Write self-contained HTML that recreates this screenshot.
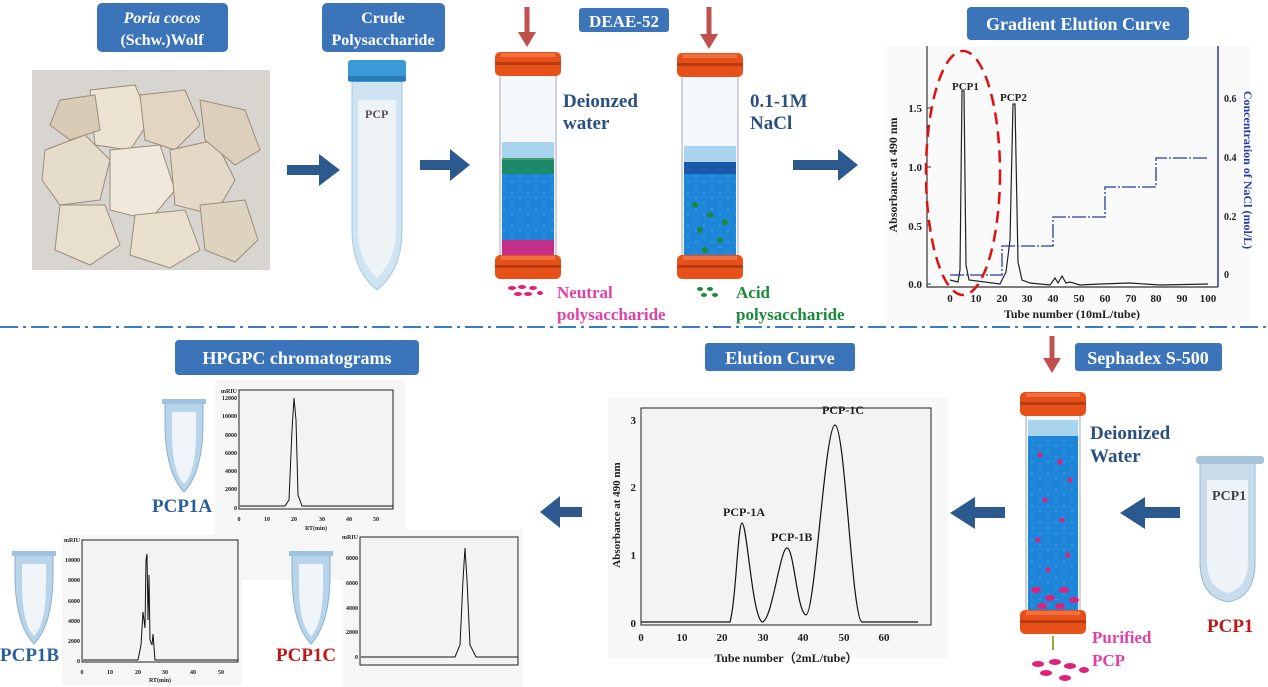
<!DOCTYPE html>
<html><head><meta charset="utf-8"><style>
body{margin:0;background:#fff}
svg{display:block}
text{font-family:"Liberation Serif",serif;font-weight:bold}
</style></head><body>
<svg width="1268" height="687" viewBox="0 0 1268 687" xmlns="http://www.w3.org/2000/svg">
<defs>
<pattern id="beads" width="16" height="11" patternUnits="userSpaceOnUse">
<rect width="16" height="11" fill="#8cc4ec"/>
<ellipse cx="8" cy="5.5" rx="7.5" ry="5" fill="#1e86d8"/>
<ellipse cx="0" cy="0" rx="7.5" ry="5" fill="#1e86d8"/>
<ellipse cx="16" cy="0" rx="7.5" ry="5" fill="#1e86d8"/>
<ellipse cx="0" cy="11" rx="7.5" ry="5" fill="#1e86d8"/>
<ellipse cx="16" cy="11" rx="7.5" ry="5" fill="#1e86d8"/>
</pattern>
<g id="cap"><rect x="0" y="0" width="66" height="24" rx="5" fill="#e8501a"/><rect x="0" y="10" width="66" height="3" fill="#b83a10"/><rect x="6" y="1" width="54" height="4" fill="#f07040"/></g>
</defs>

<rect x="97" y="3" width="131" height="49" rx="5" fill="#3b74b8"/>
<text x="162" y="23" font-size="16" fill="#fff" text-anchor="middle" font-style="italic">Poria cocos</text>
<text x="162" y="45" font-size="16" fill="#fff" text-anchor="middle">(Schw.)Wolf</text>
<rect x="322" y="3" width="123" height="49" rx="5" fill="#3b74b8"/>
<text x="383" y="23" font-size="16" fill="#fff" text-anchor="middle">Crude</text>
<text x="383" y="45" font-size="16" fill="#fff" text-anchor="middle">Polysaccharide</text>
<rect x="579" y="8" width="90" height="24" rx="3" fill="#3b74b8"/>
<text x="624" y="27" font-size="17" fill="#fff" text-anchor="middle">DEAE-52</text>
<rect x="967" y="7" width="222" height="33" rx="4" fill="#3b74b8"/>
<text x="1078" y="30" font-size="18" fill="#fff" text-anchor="middle">Gradient Elution Curve</text>

<rect x="32" y="70" width="238" height="200" fill="#d8d4cf"/>
<g stroke="#9a8c78" stroke-width="1">
<polygon points="45,150 85,135 110,160 100,200 60,205 42,180" fill="#e6dccb"/>
<polygon points="90,90 135,85 150,120 130,150 95,145" fill="#ece3d3"/>
<polygon points="140,95 185,90 200,125 175,150 145,140" fill="#e2d6c2"/>
<polygon points="110,150 160,145 175,190 150,220 110,210" fill="#f0e8da"/>
<polygon points="170,150 215,140 235,180 215,215 175,205" fill="#e4d9c6"/>
<polygon points="200,100 245,110 260,150 235,165 205,140" fill="#dcd0bc"/>
<polygon points="60,205 105,205 120,245 90,265 55,250" fill="#e8dfcf"/>
<polygon points="135,215 185,210 200,250 170,268 130,255" fill="#eae0ce"/>
<polygon points="200,205 245,200 258,240 235,262 205,250" fill="#ded3bf"/>
<polygon points="60,100 95,95 100,130 70,140 50,125" fill="#d9ccb6"/>
</g>

<g fill="#2d5a8e">
<path d="M287,165 h32 v-11 l21,16 l-21,16 v-11 h-32z"/>
<path d="M420,160 h30 v-11 l20,16 l-20,16 v-11 h-30z"/>
<path d="M793,160 h45 v-11 l20,16 l-20,16 v-11 h-45z"/>
<path d="M582,507 h-22 v-11 l-20,16 l20,16 v-11 h22z"/>
<path d="M975,507 h30 v11 h-30 v11 l-25,-16 l25,-16z"/>
<path d="M1145,507 h35 v11 h-35 v11 l-25,-16 l25,-16z"/>
</g>

<path d="M352,80 h50 v150 q0,40 -25,60 q-25,-20 -25,-60z" fill="#cfe4f2" stroke="#a8c8de"/>
<path d="M358,100 h38 v130 q0,30 -19,48 q-19,-18 -19,-48z" fill="#eef3f6"/>
<rect x="348" y="60" width="58" height="22" rx="3" fill="#3a9ad8"/>
<rect x="348" y="76" width="58" height="5" fill="#2a7ab8"/>
<text x="365" y="118" font-size="12" fill="#555" font-weight="normal">PCP</text>

<path d="M527,7 v28" stroke="#c0504d" stroke-width="5"/><path d="M518,32 l9,15 l9,-15z" fill="#c0504d"/>
<rect x="500" y="74" width="56" height="184" fill="#f4f8fa" stroke="#aab" stroke-width="1"/>
<rect x="502" y="142" width="52" height="20" fill="#a8d4ee"/>
<rect x="502" y="160" width="52" height="95" fill="url(#beads)"/>
<rect x="502" y="158" width="52" height="16" fill="#1a8a3a" opacity="0.7"/>
<rect x="502" y="240" width="52" height="15" fill="#e0207a" opacity="0.85"/>
<use href="#cap" x="495" y="52"/>
<use href="#cap" x="495" y="255"/>
<g fill="#e0207a"><ellipse cx="512" cy="288" rx="4" ry="2"/><ellipse cx="522" cy="287" rx="4" ry="2"/><ellipse cx="533" cy="288" rx="4" ry="2"/><ellipse cx="518" cy="294" rx="4" ry="2"/><ellipse cx="528" cy="294" rx="4" ry="2"/><ellipse cx="540" cy="293" rx="3" ry="2"/></g>
<text x="563" y="107" font-size="19" fill="#2a5080">Deionzed</text>
<text x="563" y="129" font-size="19" fill="#2a5080">water</text>
<text x="557" y="298" font-size="17" fill="#e040a8">Neutral</text>
<text x="557" y="320" font-size="17" fill="#e040a8">polysaccharide</text>

<path d="M709,7 v30" stroke="#c0504d" stroke-width="5"/><path d="M700,34 l9,15 l9,-15z" fill="#c0504d"/>
<rect x="682" y="75" width="56" height="183" fill="#f4f8fa" stroke="#aab"/>
<rect x="684" y="146" width="52" height="18" fill="#a8d4ee"/>
<rect x="684" y="162" width="52" height="93" fill="url(#beads)"/>
<rect x="684" y="162" width="52" height="12" fill="#1a3a8a" opacity="0.6"/>
<g fill="#1a8a3a"><circle cx="695" cy="205" r="3"/><circle cx="710" cy="215" r="3"/><circle cx="700" cy="230" r="3"/><circle cx="720" cy="240" r="3"/><circle cx="705" cy="250" r="3"/><circle cx="725" cy="222" r="3"/></g>
<use href="#cap" x="677" y="53"/>
<use href="#cap" x="677" y="255"/>
<g fill="#1a8a3a"><ellipse cx="700" cy="289" rx="3" ry="2"/><ellipse cx="710" cy="289" rx="3" ry="2"/><ellipse cx="704" cy="295" rx="3" ry="2"/><ellipse cx="715" cy="295" rx="3" ry="2"/></g>
<text x="750" y="107" font-size="19" fill="#2a5080">0.1-1M</text>
<text x="750" y="129" font-size="19" fill="#2a5080">NaCl</text>
<text x="736" y="298" font-size="17" fill="#1a8a3a">Acid</text>
<text x="736" y="320" font-size="17" fill="#1a8a3a">polysaccharide</text>

<rect x="885" y="46" width="365" height="276" fill="#fafafa"/>
<path d="M927,46 V287 H1218" fill="none" stroke="#333" stroke-width="1.2"/>
<path d="M1218,46 V287" stroke="#2a3aa8" stroke-width="1.5"/>
<g font-size="11" fill="#222" text-anchor="end">
<text x="922" y="288">0.0</text><text x="922" y="230">0.5</text><text x="922" y="171">1.0</text><text x="922" y="112">1.5</text></g>
<g stroke="#333"><path d="M927,284 h4 M927,225 h4 M927,167 h4 M927,108 h4"/></g>
<g font-size="11" fill="#222" text-anchor="middle">
<text x="950" y="302">0</text><text x="976" y="302">10</text><text x="1002" y="302">20</text><text x="1027" y="302">30</text><text x="1053" y="302">40</text><text x="1079" y="302">50</text><text x="1105" y="302">60</text><text x="1131" y="302">70</text><text x="1156" y="302">80</text><text x="1182" y="302">90</text><text x="1208" y="302">100</text></g>
<text x="1072" y="318" font-size="12" fill="#222" text-anchor="middle">Tube number (10mL/tube)</text>
<text transform="translate(897,175) rotate(-90)" font-size="12" fill="#222" text-anchor="middle">Absorbance at 490 nm</text>
<g font-size="10" fill="#222"><text x="1224" y="278">0</text><text x="1224" y="220">0.2</text><text x="1224" y="161">0.4</text><text x="1224" y="102">0.6</text></g>
<text transform="translate(1244,170) rotate(90)" font-size="12" fill="#2a3aa8" text-anchor="middle">Concentration of NaCl (mol/L)</text>
<path d="M950,280 L958,282 L960,270 L962,91 L964,91 L966,265 L969,280 L1000,284 L1006,272 L1010,240 L1013,104 L1015,104 L1018,262 L1022,280 L1030,283 L1050,285 L1055,278 L1058,283 L1062,276 L1066,283 L1070,282 L1080,285 L1100,284 L1130,283 L1160,285 L1208,284" fill="none" stroke="#222" stroke-width="1.2"/>
<path d="M950,275 H1002 V246 H1053 V217 H1105 V187 H1156 V158 H1208" fill="none" stroke="#2a3aa8" stroke-width="1.3" stroke-dasharray="14,2,2,2"/>
<text x="952" y="90" font-size="11" fill="#222">PCP1</text>
<text x="1000" y="101" font-size="11" fill="#222">PCP2</text>
<ellipse cx="963" cy="173" rx="37" ry="122" fill="none" stroke="#e01010" stroke-width="2.5" stroke-dasharray="12,7"/>

<line x1="0" y1="327" x2="1268" y2="327" stroke="#3a7bc8" stroke-width="2" stroke-dasharray="18,5,3,5"/>

<rect x="175" y="340" width="244" height="35" rx="4" fill="#3b74b8"/>
<text x="297" y="364" font-size="18" fill="#fff" text-anchor="middle">HPGPC chromatograms</text>
<rect x="705" y="343" width="150" height="28" rx="3" fill="#3b74b8"/>
<text x="780" y="364" font-size="18" fill="#fff" text-anchor="middle">Elution Curve</text>
<rect x="1075" y="343" width="147" height="28" rx="3" fill="#3b74b8"/>
<text x="1148" y="364" font-size="18" fill="#fff" text-anchor="middle">Sephadex  S-500</text>

<rect x="215" y="380" width="190" height="200" fill="#f6f6f6"/>
<rect x="239" y="390" width="154" height="119" fill="#f3f3f3" stroke="#222"/>
<g font-size="6" fill="#222" text-anchor="end"><text x="237" y="393">mRIU</text><text x="237" y="400">12000</text><text x="237" y="418">10000</text><text x="237" y="437">8000</text><text x="237" y="455">6000</text><text x="237" y="473">4000</text><text x="237" y="491">2000</text><text x="237" y="510">0</text></g>
<g font-size="6" fill="#222" text-anchor="middle"><text x="239" y="521">0</text><text x="267" y="521">10</text><text x="294" y="521">20</text><text x="322" y="521">30</text><text x="349" y="521">40</text><text x="376" y="521">50</text><text x="316" y="530">RT(min)</text></g>
<path d="M240,506 L285,506 L289,500 L292,430 L294,398 L296,420 L298,495 L302,506 L393,506" fill="none" stroke="#111" stroke-width="1"/>
<rect x="62" y="535" width="180" height="150" fill="#f6f6f6"/>
<rect x="82" y="540" width="156" height="122" fill="#f3f3f3" stroke="#222"/>
<g font-size="6" fill="#222" text-anchor="end"><text x="80" y="542">mRIU</text><text x="80" y="562">10000</text><text x="80" y="582">8000</text><text x="80" y="603">6000</text><text x="80" y="623">4000</text><text x="80" y="643">2000</text><text x="80" y="663">0</text></g>
<g font-size="6" fill="#222" text-anchor="middle"><text x="82" y="674">0</text><text x="110" y="674">10</text><text x="138" y="674">20</text><text x="165" y="674">30</text><text x="193" y="674">40</text><text x="221" y="674">50</text><text x="160" y="682">RT(min)</text></g>
<path d="M83,660 L138,660 L141,645 L143,612 L145,628 L146,560 L147,554 L148,620 L149,575 L150,640 L152,645 L153,634 L155,660 L238,660" fill="none" stroke="#111" stroke-width="1"/>
<rect x="343" y="530" width="180" height="157" fill="#f6f6f6"/>
<rect x="360" y="537" width="158" height="128" fill="#f3f3f3" stroke="#222"/>
<g font-size="6" fill="#222" text-anchor="end"><text x="358" y="539">mRIU</text><text x="358" y="560">8000</text><text x="358" y="585">6000</text><text x="358" y="610">4000</text><text x="358" y="634">2000</text><text x="358" y="659">0</text></g>
<path d="M361,657 L455,657 L460,645 L463,580 L465,548 L467,580 L470,645 L476,657 L518,657" fill="none" stroke="#111" stroke-width="1"/>

<g id="et">
<path d="M165,402 h38 v20 q0,50 -19,70 q-19,-20 -19,-70z" fill="#b8d4ea" stroke="#8ab0cc"/>
<path d="M172,412 h24 v20 q0,40 -12,52 q-12,-12 -12,-52z" fill="#eef4f8"/>
<rect x="162" y="399" width="44" height="5" fill="#9cc2de"/>
</g>
<use href="#et" x="-150" y="152"/>
<use href="#et" x="127" y="152"/>
<text x="152" y="512" font-size="19" fill="#2a5f9a">PCP1A</text>
<text x="0" y="661" font-size="19" fill="#2a5f9a">PCP1B</text>
<text x="276" y="661" font-size="19" fill="#c01818">PCP1C</text>

<rect x="608" y="398" width="340" height="260" fill="#f7f7f7"/>
<rect x="641" y="408" width="290" height="217" fill="#f3f3f3" stroke="#222"/>
<g font-size="11" fill="#222" text-anchor="end"><text x="636" y="627">0</text><text x="636" y="559">1</text><text x="636" y="491">2</text><text x="636" y="424">3</text></g>
<g font-size="11" fill="#222" text-anchor="middle"><text x="641" y="641">0</text><text x="682" y="641">10</text><text x="722" y="641">20</text><text x="763" y="641">30</text><text x="803" y="641">40</text><text x="844" y="641">50</text><text x="884" y="641">60</text></g>
<text x="786" y="662" font-size="12" fill="#222" text-anchor="middle">Tube number（2mL/tube）</text>
<text transform="translate(620,515) rotate(-90)" font-size="11" fill="#222" text-anchor="middle">Absorbance at 490 nm</text>
<path d="M641,622 L730,622 C736,600 738,523 742,523 C747,523 752,615 762,622 C772,622 780,548 787,548 C794,548 797,612 806,615 C815,615 825,425 835,425 C845,425 852,620 862,622 L918,622" fill="none" stroke="#111" stroke-width="1.2"/>
<text x="723" y="516" font-size="12" fill="#222">PCP-1A</text>
<text x="771" y="541" font-size="12" fill="#222">PCP-1B</text>
<text x="822" y="414" font-size="12" fill="#222">PCP-1C</text>

<path d="M1052,336 v24" stroke="#c0504d" stroke-width="5"/><path d="M1043,358 l9,15 l9,-15z" fill="#c0504d"/>
<rect x="1026" y="412" width="54" height="200" fill="#f4f8fa" stroke="#aab"/>
<rect x="1028" y="420" width="50" height="20" fill="#a8d4ee"/>
<rect x="1028" y="436" width="50" height="176" fill="url(#beads)"/>
<g fill="#e0207a"><circle cx="1040" cy="455" r="2.5"/><circle cx="1060" cy="462" r="2.5"/><circle cx="1070" cy="480" r="2.5"/><circle cx="1045" cy="500" r="2.5"/><circle cx="1062" cy="520" r="2.5"/><circle cx="1038" cy="540" r="2.5"/><circle cx="1068" cy="555" r="2.5"/><circle cx="1048" cy="570" r="2.5"/>
<ellipse cx="1036" cy="590" rx="5" ry="3"/><ellipse cx="1050" cy="598" rx="5" ry="3"/><ellipse cx="1064" cy="590" rx="5" ry="3"/><ellipse cx="1074" cy="600" rx="5" ry="3"/><ellipse cx="1042" cy="606" rx="5" ry="3"/><ellipse cx="1060" cy="606" rx="5" ry="3"/></g>
<use href="#cap" x="1020" y="392"/>
<use href="#cap" x="1020" y="610"/>
<path d="M1053,636 v14" stroke="#8ab030" stroke-width="2"/>
<g fill="#e0207a"><ellipse cx="1038" cy="664" rx="6" ry="3"/><ellipse cx="1055" cy="662" rx="6" ry="3"/><ellipse cx="1070" cy="666" rx="6" ry="3"/><ellipse cx="1046" cy="673" rx="6" ry="3"/><ellipse cx="1065" cy="678" rx="6" ry="3"/><ellipse cx="1084" cy="670" rx="5" ry="3"/></g>
<text x="1090" y="439" font-size="19" fill="#2a5080">Deionized</text>
<text x="1090" y="462" font-size="19" fill="#2a5080">Water</text>
<text x="1092" y="643" font-size="17" fill="#e040a8">Purified</text>
<text x="1092" y="666" font-size="17" fill="#e040a8">PCP</text>

<path d="M1200,462 h55 v100 q0,35 -27,40 q-28,-5 -28,-40z" fill="#c8dcec" stroke="#98b8d0"/>
<path d="M1207,480 h41 v80 q0,28 -20,33 q-21,-5 -21,-33z" fill="#eef3f7"/>
<rect x="1196" y="456" width="68" height="8" rx="3" fill="#a8c4dc"/>
<text x="1212" y="500" font-size="14" fill="#444" font-weight="normal">PCP1</text>
<text x="1207" y="632" font-size="19" fill="#c01818">PCP1</text>
</svg>
</body></html>
